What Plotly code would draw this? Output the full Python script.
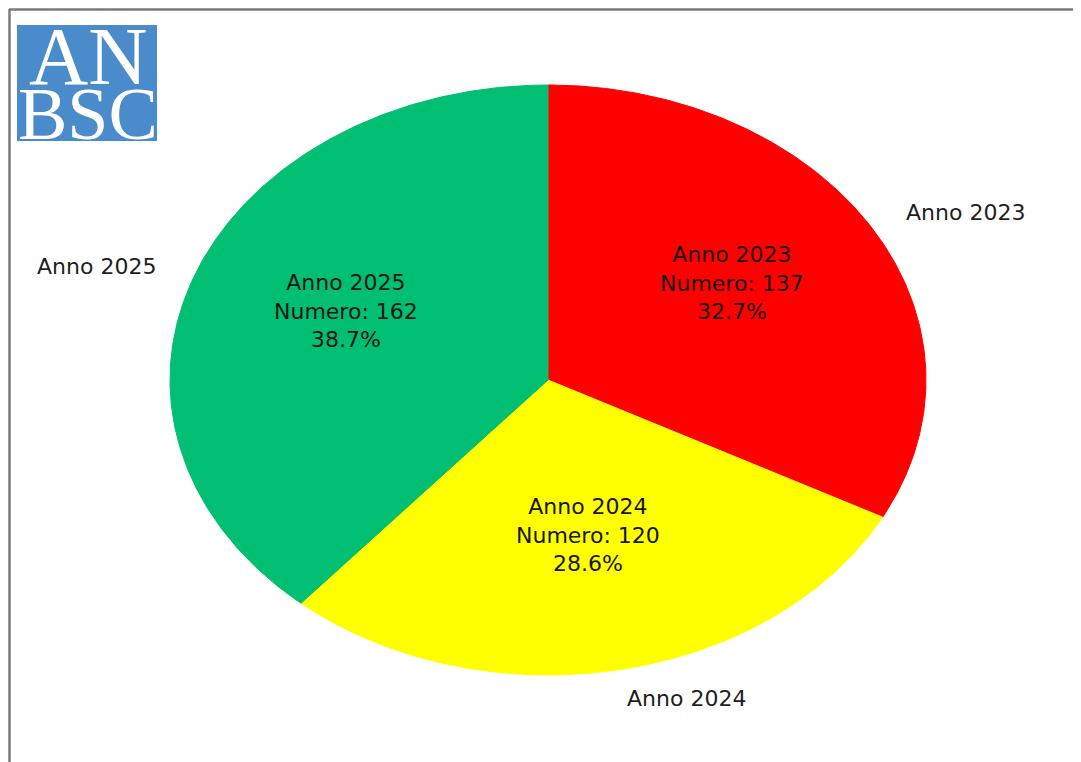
import numpy as np
import plotly.graph_objects as go

# ---- data ----
categories = ["Anno 2023", "Anno 2024", "Anno 2025"]
values = [137, 120, 162]
colors = ["#ff0000", "#ffff00", "#00bf72"]

# ---- layout constants (pixels of the reference 1081x762 canvas) ----
OFF = 8                    # browser body margin: figure starts at page (8, 8)
W, H = 1081 - OFF, 762 - OFF
CX, CY = 548 - OFF, 380 - OFF   # pie centre in figure pixels
RX, RY = 378, 295          # horizontal / vertical radius (stretched pie)
FONT = "DejaVu Sans"

total = sum(values)
fig = go.Figure()

start = 0.0  # degrees, clockwise from 12 o'clock
annotations = []
for cat, val, col in zip(categories, values, colors):
    sweep = 360.0 * val / total
    th = np.radians(np.linspace(start, start + sweep, 240))
    u = np.concatenate([[0.0], np.sin(th), [0.0]])
    v = np.concatenate([[0.0], np.cos(th), [0.0]])
    fig.add_trace(go.Scatter(x=u, y=v, mode="lines", fill="toself",
                             fillcolor=col, line=dict(color=col, width=1),
                             hoverinfo="skip", showlegend=False))
    mid = np.radians(start + sweep / 2)
    # inner label
    r_in = 0.57
    annotations.append(dict(
        x=r_in * np.sin(mid), y=r_in * np.cos(mid), xref="x", yref="y",
        text=f"{cat}<br>Numero: {val}<br>{100 * val / total:.1f}%",
        showarrow=False, font=dict(family=FONT, size=22, color="#161616"),
        xanchor="center", yanchor="middle", align="center", yshift=10))
    # outer label
    r_out = 1.1
    ox, oy = r_out * np.sin(mid), r_out * np.cos(mid)
    annotations.append(dict(
        x=ox, y=oy, xref="x", yref="y", text=cat, showarrow=False,
        font=dict(family=FONT, size=22, color="#1e1e1e"),
        xanchor="left" if ox > 0 else "right", yanchor="middle"))
    start += sweep


def px(x):
    return (x - OFF) / W


def py(y):
    return 1 - (y - OFF) / H


# logo text (boxes trimmed to the cap height)
annotations.append(dict(x=px(88), y=py(56), xref="paper", yref="paper",
                        text="AN", showarrow=False, height=60, valign="middle",
                        font=dict(family="Liberation Serif", size=82, color="white"),
                        xanchor="center", yanchor="middle"))
annotations.append(dict(x=px(88), y=py(114), xref="paper", yref="paper",
                        text="BSC", showarrow=False, height=54, valign="middle",
                        font=dict(family="Liberation Serif", size=74, color="white"),
                        xanchor="center", yanchor="middle"))

shapes = [
    # logo square
    dict(type="rect", xref="paper", yref="paper", x0=px(17), x1=px(157),
         y0=py(141), y1=py(25), fillcolor="#4a8bcb", line=dict(width=0), layer="below"),
    # frame lines
    dict(type="line", xref="paper", yref="paper", x0=px(9), x1=1, y0=py(9.5), y1=py(9.5),
         line=dict(color="#7a7a7a", width=2.5)),
    dict(type="line", xref="paper", yref="paper", x0=px(9.5), x1=px(9.5), y0=py(9), y1=0,
         line=dict(color="#7a7a7a", width=2.5)),
]

fig.update_layout(
    width=W, height=H, margin=dict(l=0, r=0, t=0, b=0),
    paper_bgcolor="white", plot_bgcolor="white",
    xaxis=dict(range=[-CX / RX, (W - CX) / RX], visible=False, fixedrange=True),
    yaxis=dict(range=[-(H - CY) / RY, CY / RY], visible=False, fixedrange=True),
    annotations=annotations, shapes=shapes, showlegend=False,
)

fig.write_html("out.html")
